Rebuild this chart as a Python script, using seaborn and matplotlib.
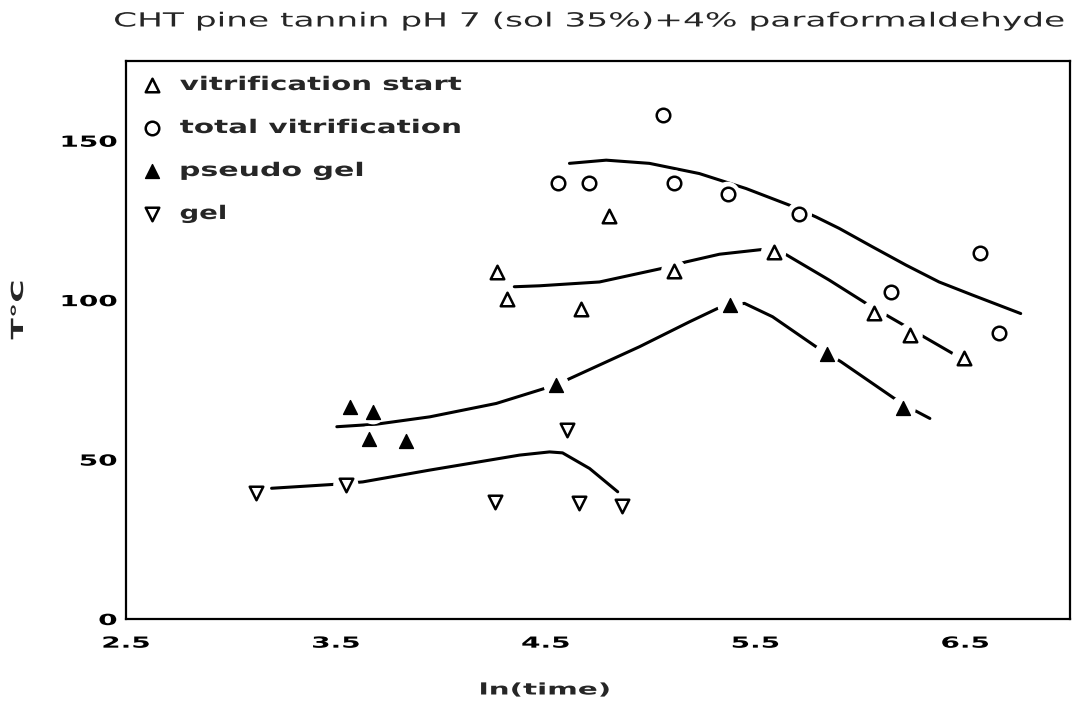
import matplotlib
matplotlib.use("Agg")
import matplotlib.pyplot as plt
import seaborn as sns
from matplotlib.patheffects import AbstractPathEffect
from matplotlib.transforms import Affine2D

# ---------------- data ----------------
title_text = "CHT pine tannin pH 7 (sol 35%)+4% paraformaldehyde"
x_label = "ln(time)"
y_label = "T°C"
series_names = ["vitrification start", "total vitrification", "pseudo gel", "gel"]

vit_start_x = [4.267, 4.314, 4.670, 4.801, 5.111, 5.587, 6.067, 6.238, 6.495]
vit_start_y = [108.9, 100.5, 97.1, 126.4, 109.1, 115.0, 96.1, 89.0, 81.7]

total_vit_x = [4.559, 4.706, 5.059, 5.111, 5.368, 5.710, 6.146, 6.571, 6.662]
total_vit_y = [136.8, 136.8, 158.0, 136.8, 133.2, 127.0, 102.6, 114.9, 89.8]

pseudo_gel_x = [3.570, 3.678, 3.659, 3.837, 4.551, 5.380, 5.840, 6.205]
pseudo_gel_y = [66.6, 65.0, 56.6, 55.9, 73.4, 98.4, 83.0, 66.2]

gel_x = [3.122, 3.548, 4.260, 4.603, 4.659, 4.865]
gel_y = [39.4, 42.0, 36.8, 59.2, 36.5, 35.4]

# hand-drawn trend curves
total_curve_x = [4.614, 4.789, 4.995, 5.233, 5.456, 5.662, 5.789, 5.900, 6.059, 6.218, 6.376, 6.535, 6.765]
total_curve_y = [142.9, 143.9, 142.9, 139.7, 135.0, 129.8, 126.1, 122.5, 116.7, 111.0, 105.7, 101.6, 95.8]

start_curve_x = [4.351, 4.471, 4.757, 5.051, 5.170, 5.329, 5.535, 5.646, 5.852, 6.035, 6.201, 6.440]
start_curve_y = [104.2, 104.5, 105.7, 109.9, 112.0, 114.4, 115.9, 114.3, 106.3, 98.7, 92.4, 83.3]

pseudo_curve_x = [3.505, 3.694, 3.948, 4.265, 4.495, 4.599, 4.948, 5.186, 5.320, 5.448, 5.582, 5.789, 5.908, 6.162, 6.257, 6.332]
pseudo_curve_y = [60.3, 61.1, 63.4, 67.6, 72.3, 74.9, 85.4, 93.2, 97.4, 99.0, 94.8, 85.4, 80.7, 69.2, 65.5, 62.9]

gel_curve_x = [3.194, 3.486, 3.629, 3.948, 4.376, 4.519, 4.581, 4.710, 4.844]
gel_curve_y = [41.0, 42.2, 43.0, 46.7, 51.4, 52.4, 52.1, 47.2, 39.9]

x_ticks = [2.5, 3.5, 4.5, 5.5, 6.5]
x_tick_labels = ["2.5", "3.5", "4.5", "5.5", "6.5"]
y_ticks = [0, 50, 100, 150]
y_tick_labels = ["0", "50", "100", "150"]
y_minor_ticks = [25, 75, 125]


# ---------------- helpers ----------------
class Stretch(AbstractPathEffect):
    """Draw text glyphs stretched (the reference uses a very wide typeface)."""

    def __init__(self, sx=1.0, sy=1.0, anchor="center"):
        super().__init__()
        self.sx, self.sy, self.anchor = sx, sy, anchor

    def draw_path(self, renderer, gc, tpath, affine, rgbFace=None):
        ext = tpath.get_extents(affine)
        if self.anchor == "left":
            cx = ext.x0
        elif self.anchor == "right":
            cx = ext.x1
        else:
            cx = 0.5 * (ext.x0 + ext.x1)
        cy = 0.5 * (ext.y0 + ext.y1)
        t = affine + Affine2D().translate(-cx, -cy).scale(self.sx, self.sy).translate(cx, cy)
        renderer.draw_path(gc, tpath, t, rgbFace)


# ---------------- figure ----------------
sns.set_style("white")
plt.rcParams["font.family"] = ["DejaVu Sans"]
plt.rcParams["font.weight"] = "bold"

W, H = 1073, 705
fig = plt.figure(figsize=(W / 100, H / 100), dpi=100)
AX_L, AX_R, AX_T, AX_B = 126, 1070, 61, 619
ax = fig.add_axes([AX_L / W, 1 - AX_B / H, (AX_R - AX_L) / W, (AX_B - AX_T) / H])
axw, axh = AX_R - AX_L, AX_B - AX_T

# curves
for cx, cy in [(total_curve_x, total_curve_y), (start_curve_x, start_curve_y),
               (pseudo_curve_x, pseudo_curve_y), (gel_curve_x, gel_curve_y)]:
    sns.lineplot(x=cx, y=cy, sort=False, estimator=None, color="black",
                 linewidth=2.2, ax=ax, zorder=2)

# white halos that break the curves around the symbols
all_x = vit_start_x + total_vit_x + pseudo_gel_x + gel_x
all_y = vit_start_y + total_vit_y + pseudo_gel_y + gel_y
sns.scatterplot(x=all_x, y=all_y, s=330, marker="o", color="white",
                edgecolor="none", linewidth=0, ax=ax, zorder=2.5, legend=False)

handles = []
sns.scatterplot(x=vit_start_x, y=vit_start_y, marker="^", s=95, facecolor="white",
                edgecolor="black", linewidth=1.8, ax=ax, zorder=3, legend=False)
handles.append(ax.collections[-1])
sns.scatterplot(x=total_vit_x, y=total_vit_y, marker="o", s=95, facecolor="white",
                edgecolor="black", linewidth=1.8, ax=ax, zorder=3, legend=False)
handles.append(ax.collections[-1])
sns.scatterplot(x=pseudo_gel_x, y=pseudo_gel_y, marker="^", s=100, facecolor="black",
                edgecolor="black", linewidth=1.0, ax=ax, zorder=3, legend=False)
handles.append(ax.collections[-1])
sns.scatterplot(x=gel_x, y=gel_y, marker="v", s=95, facecolor="white",
                edgecolor="black", linewidth=1.8, ax=ax, zorder=3, legend=False)
handles.append(ax.collections[-1])

ax.set_xlim(2.5, 7.0)
ax.set_ylim(0, 175)
ax.set_xticks(x_ticks, labels=x_tick_labels)
ax.set_yticks(y_ticks, labels=y_tick_labels)
ax.set_yticks(y_minor_ticks, minor=True)
ax.tick_params(axis="both", which="both", direction="in", length=6.5, width=1.5,
               color="black", top=False, right=False, labelsize=11, labelcolor="black")
ax.tick_params(axis="x", which="major", pad=12)
ax.tick_params(axis="y", which="major", pad=6.5)
ax.grid(False)
for sp in ax.spines.values():
    sp.set_visible(True)
    sp.set_color("black")
    sp.set_linewidth(1.6)

leg = ax.legend(handles=handles, labels=series_names, loc="upper left",
                bbox_to_anchor=(16.6 / axw, 1 - 14 / axh), bbox_transform=ax.transAxes,
                frameon=False, prop={"weight": "bold", "size": 13.5},
                handlelength=1.0, handletextpad=0.99, labelspacing=1.28,
                borderpad=0, borderaxespad=0, scatterpoints=1)

ax.set_xlabel(x_label, fontsize=11.5, fontweight="bold", va="center", ha="center")
ax.xaxis.set_label_coords((545 - AX_L) / axw, -(690 - AX_B) / axh)
ax.set_ylabel(y_label, fontsize=12, fontweight="bold", va="center", ha="center")
ax.yaxis.set_label_coords(-(AX_L - 18) / axw, (AX_B - 310) / axh)

title = ax.set_title(title_text, fontsize=14, fontweight="normal", pad=0,
                     y=1 + (AX_T - 21) / axh, va="center")
title.set_x((590 - AX_L) / axw)

# ---------------- widen glyphs to the reference's wide typeface ----------------
fig.canvas.draw()
rend = fig.canvas.get_renderer()


def natural(t, vertical=False):
    bb = t.get_window_extent(rend)
    return bb.height if vertical else bb.width


title.set_path_effects([Stretch(955 / natural(title), 1.0, "center")])

for t, target in zip(leg.get_texts(), [282, 282, 186, 48]):
    t.set_path_effects([Stretch(target / natural(t), 1.0, "left")])

ref = [t for t in ax.get_yticklabels() if t.get_text() == "150"][0]
f_tick = 58 / natural(ref)
for t in ax.get_yticklabels():
    t.set_path_effects([Stretch(f_tick, 1.0, "right")])
for t in ax.get_xticklabels():
    t.set_path_effects([Stretch(f_tick, 1.0, "center")])

xl = ax.xaxis.label
xl.set_path_effects([Stretch(133 / natural(xl), 1.0, "center")])
yl = ax.yaxis.label
yl.set_path_effects([Stretch(1.0, 60 / natural(yl, vertical=True), "center")])

fig.savefig("out.png", dpi=100)
